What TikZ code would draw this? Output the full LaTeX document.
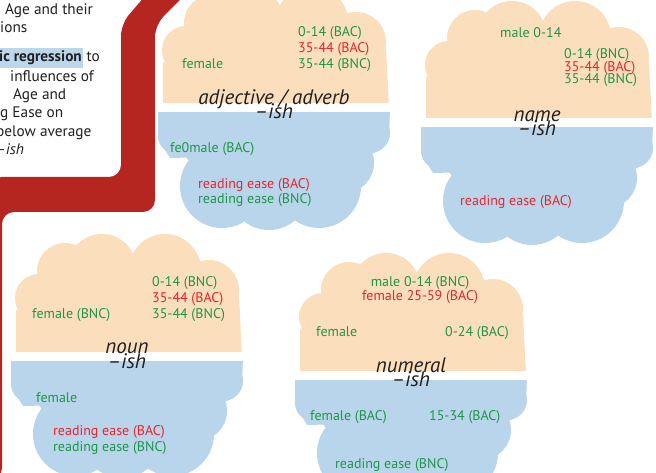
\documentclass[tikz,border=0pt]{standalone}
\usepackage{fontspec}
\setmainfont{PT Sans}
\definecolor{bandred}{RGB}{181,38,32}
\definecolor{peach}{RGB}{251,222,187}
\definecolor{cblue}{RGB}{185,213,235}
\definecolor{hlblue}{RGB}{187,215,236}
\definecolor{tgreen}{RGB}{30,150,72}
\definecolor{tred}{RGB}{232,36,44}
\definecolor{lblack}{RGB}{35,31,32}
\tikzset{
  txt/.style={font=\fontsize{14}{16}\selectfont, inner sep=0pt},
  gt/.style={txt, text=tgreen, anchor=base west},
  rt/.style={txt, text=tred, anchor=base west},
  lbl/.style={font=\fontsize{21}{21}\selectfont\itshape, text=lblack, inner sep=0pt, anchor=base},
  ptxt/.style={font=\fontsize{15.3}{17}\selectfont, text=lblack, inner sep=0pt, anchor=base west},
  peachfill/.style={fill=peach},
  bluefill/.style={fill=cblue},
}
\newcommand\mycloud[2]{%
  \begin{scope}[shift={(#1,#2)}]
    \begin{scope}
      \clip (-140,-140) rectangle (140,-5);
      \fill[peachfill] (-111,0) -- (-111,-45) -- (-80,-80) -- (90,-80) -- (112,-60) -- (115,0) -- cycle;
      \fill[peachfill] (-88,-58) circle[radius=24] (-62,-85) circle[radius=28]
                       (-25,-88) circle[radius=34] (38,-86) circle[radius=36]
                       (82,-66) circle[radius=30];
    \end{scope}
    \begin{scope}
      \clip (-140,5) rectangle (140,140);
      \fill[bluefill] (-116,0) -- (-116,30) -- (-104,50) -- (100,45) -- (115,30) -- (116,0) -- cycle;
      \fill[bluefill] (-94,40) -- (90,40) -- (60,90) -- (-60,90) -- cycle;
      \fill[bluefill] (-98,28) circle[radius=18] (96,25) circle[radius=20]
                      (-52,78) circle[radius=42] (-5,82) circle[radius=40]
                      (45,78) circle[radius=42] (70,55) circle[radius=30];
    \end{scope}
  \end{scope}}
\begin{document}
\begin{tikzpicture}[x=1pt,y=-1pt]
\useasboundingbox (0,0) rectangle (656,473);
\fill[white] (0,0) rectangle (656,473);
% red band
\fill[bandred, rounded corners=12pt] (152,-12) -- (121,24) -- (121,177) -- (-10,177)
   -- (-10,480) -- (2,480) -- (2,212) -- (155,212) -- (155,25) -- (192,-12) -- cycle;
% left panel text
\node[ptxt] (p1) at (5,15) {Age and their};
\node[ptxt] (p2) at (0,33) {ions};
\node[ptxt, fill=hlblue, inner xsep=1pt, inner ysep=3pt] (p3a) at (-2,62) {\bfseries ic regression};
\node[ptxt] (p3b) at ([xshift=3.5pt]p3a.base east) {to};
\node[ptxt] (p4) at (10,82) {influences of};
\node[ptxt] (p5) at (13,100) {Age and};
\node[ptxt] (p6) at (0,118) {g Ease on};
\node[ptxt] (p7) at (-4,137) {below average};
\node[ptxt] (p8) at (-4,155) {\itshape –ish};
% clouds
\mycloud{274}{108}
\mycloud{537}{123}
\mycloud{127}{356}
\mycloud{411}{375}
% cloud 1
\node[gt] (a1) at (298,37) {0-14 (BAC)};
\node[rt] (a2) at (298,53) {35-44 (BAC)};
\node[gt] (a3) at (298,69) {35-44 (BNC)};
\node[gt] (a4) at (182,69) {female};
\node[lbl] (al1) at (274,105) {adjective / adverb};
\node[lbl] (al2) at (274,119) {–ish};
\node[gt] (a5) at (170,153) {fe0male (BAC)};
\node[rt] (a6) at (198,189) {reading ease (BAC)};
\node[gt] (a7) at (198,204) {reading ease (BNC)};
% cloud 2
\node[gt] (b1) at (500,38) {male 0-14};
\node[gt] (b2) at (564,59) {0-14 (BNC)};
\node[rt] (b3) at (564,72) {35-44 (BAC)};
\node[gt] (b4) at (564,84) {35-44 (BNC)};
\node[lbl] (bl1) at (537,122) {name};
\node[lbl] (bl2) at (537,136) {–ish};
\node[rt] (b5) at (460,206) {reading ease (BAC)};
% cloud 3
\node[gt] (c1) at (152,287) {0-14 (BNC)};
\node[rt] (c2) at (152,302) {35-44 (BAC)};
\node[gt] (c3) at (152,318) {35-44 (BNC)};
\node[gt] (c4) at (32,318) {female (BNC)};
\node[lbl] (cl1) at (127,353) {noun};
\node[lbl] (cl2) at (127,368) {–ish};
\node[gt] (c5) at (36,402) {female};
\node[rt] (c6) at (53,435) {reading ease (BAC)};
\node[gt] (c7) at (53,451) {reading ease (BNC)};
% cloud 4
\node[gt, anchor=base] (d1) at (420,287) {male 0-14 (BNC)};
\node[rt, anchor=base] (d2) at (420,300) {female 25-59 (BAC)};
\node[gt] (d3) at (316,336) {female};
\node[gt] (d4) at (445,336) {0-24 (BAC)};
\node[lbl] (dl1) at (411,372) {numeral};
\node[lbl] (dl2) at (411,386) {–ish};
\node[gt] (d5) at (310,420) {female (BAC)};
\node[gt] (d6) at (429,420) {15-34 (BAC)};
\node[gt] (d7) at (335,468) {reading ease (BNC)};
\end{tikzpicture}
\end{document}
